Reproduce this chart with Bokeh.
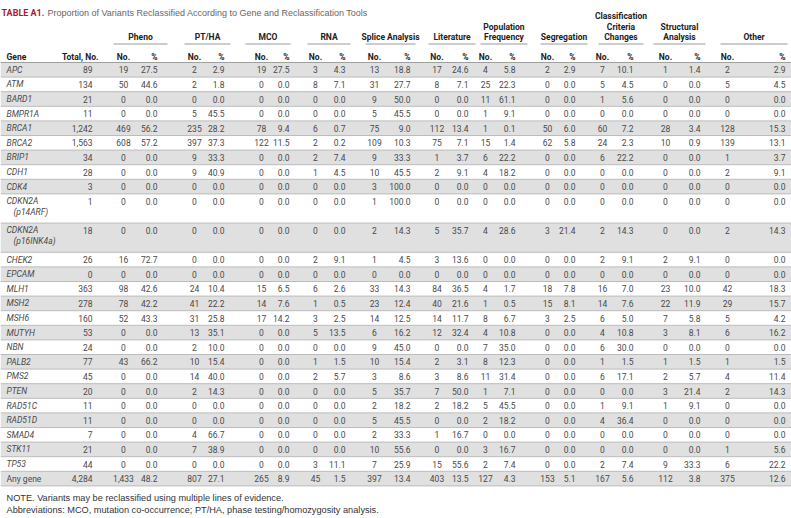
from bokeh.plotting import figure
from bokeh.models import Range1d, ColumnDataSource
from bokeh.core.properties import value
from bokeh.embed import file_html
from bokeh.resources import INLINE

# ---------------- data ----------------
genes = ["APC", "ATM", "BARD1", "BMPR1A", "BRCA1", "BRCA2", "BRIP1", "CDH1", "CDK4",
         "CDKN2A (p14ARF)", "CDKN2A (p16INK4a)", "CHEK2", "EPCAM", "MLH1", "MSH2", "MSH6",
         "MUTYH", "NBN", "PALB2", "PMS2", "PTEN", "RAD51C", "RAD51D", "SMAD4", "STK11", "TP53",
         "Any gene"]
total = [89, 134, 21, 11, 1242, 1563, 34, 28, 3, 1, 18, 26, 0, 363, 278, 160, 53, 24, 77, 45,
         20, 11, 11, 7, 21, 44, 4284]

pheno_no = [19, 50, 0, 0, 469, 608, 0, 0, 0, 0, 0, 16, 0, 98, 78, 52, 0, 0, 43, 0, 0, 0, 0, 0, 0, 0, 1433]
pheno_pct = [27.5, 44.6, 0.0, 0.0, 56.2, 57.2, 0.0, 0.0, 0.0, 0.0, 0.0, 72.7, 0.0, 42.6, 42.2, 43.3, 0.0, 0.0, 66.2, 0.0, 0.0, 0.0, 0.0, 0.0, 0.0, 0.0, 48.2]
ptha_no = [2, 2, 0, 5, 235, 397, 9, 9, 0, 0, 0, 0, 0, 24, 41, 31, 13, 2, 10, 14, 2, 0, 0, 4, 7, 0, 807]
ptha_pct = [2.9, 1.8, 0.0, 45.5, 28.2, 37.3, 33.3, 40.9, 0.0, 0.0, 0.0, 0.0, 0.0, 10.4, 22.2, 25.8, 35.1, 10.0, 15.4, 40.0, 14.3, 0.0, 0.0, 66.7, 38.9, 0.0, 27.1]
mco_no = [19, 0, 0, 0, 78, 122, 0, 0, 0, 0, 0, 0, 0, 15, 14, 17, 0, 0, 0, 0, 0, 0, 0, 0, 0, 0, 265]
mco_pct = [27.5, 0.0, 0.0, 0.0, 9.4, 11.5, 0.0, 0.0, 0.0, 0.0, 0.0, 0.0, 0.0, 6.5, 7.6, 14.2, 0.0, 0.0, 0.0, 0.0, 0.0, 0.0, 0.0, 0.0, 0.0, 0.0, 8.9]
rna_no = [3, 8, 0, 0, 6, 2, 2, 1, 0, 0, 0, 2, 0, 6, 1, 3, 5, 0, 1, 2, 0, 0, 0, 0, 0, 3, 45]
rna_pct = [4.3, 7.1, 0.0, 0.0, 0.7, 0.2, 7.4, 4.5, 0.0, 0.0, 0.0, 9.1, 0.0, 2.6, 0.5, 2.5, 13.5, 0.0, 1.5, 5.7, 0.0, 0.0, 0.0, 0.0, 0.0, 11.1, 1.5]
splice_no = [13, 31, 9, 5, 75, 109, 9, 10, 3, 1, 2, 1, 0, 33, 23, 14, 6, 9, 10, 3, 5, 2, 5, 2, 10, 7, 397]
splice_pct = [18.8, 27.7, 50.0, 45.5, 9.0, 10.3, 33.3, 45.5, 100.0, 100.0, 14.3, 4.5, 0.0, 14.3, 12.4, 12.5, 16.2, 45.0, 15.4, 8.6, 35.7, 18.2, 45.5, 33.3, 55.6, 25.9, 13.4]
lit_no = [17, 8, 0, 0, 112, 75, 1, 2, 0, 0, 5, 3, 0, 84, 40, 14, 12, 0, 2, 3, 7, 2, 0, 1, 0, 15, 403]
lit_pct = [24.6, 7.1, 0.0, 0.0, 13.4, 7.1, 3.7, 9.1, 0.0, 0.0, 35.7, 13.6, 0.0, 36.5, 21.6, 11.7, 32.4, 0.0, 3.1, 8.6, 50.0, 18.2, 0.0, 16.7, 0.0, 55.6, 13.5]
popfreq_no = [4, 25, 11, 1, 1, 15, 6, 4, 0, 0, 4, 0, 0, 4, 1, 8, 4, 7, 8, 11, 1, 5, 2, 0, 3, 2, 127]
popfreq_pct = [5.8, 22.3, 61.1, 9.1, 0.1, 1.4, 22.2, 18.2, 0.0, 0.0, 28.6, 0.0, 0.0, 1.7, 0.5, 6.7, 10.8, 35.0, 12.3, 31.4, 7.1, 45.5, 18.2, 0.0, 16.7, 7.4, 4.3]
seg_no = [2, 0, 0, 0, 50, 62, 0, 0, 0, 0, 3, 0, 0, 18, 15, 3, 0, 0, 0, 0, 0, 0, 0, 0, 0, 0, 153]
seg_pct = [2.9, 0.0, 0.0, 0.0, 6.0, 5.8, 0.0, 0.0, 0.0, 0.0, 21.4, 0.0, 0.0, 7.8, 8.1, 2.5, 0.0, 0.0, 0.0, 0.0, 0.0, 0.0, 0.0, 0.0, 0.0, 0.0, 5.1]
ccc_no = [7, 5, 1, 0, 60, 24, 6, 0, 0, 0, 2, 2, 0, 16, 14, 6, 4, 6, 1, 6, 0, 1, 4, 0, 0, 2, 167]
ccc_pct = [10.1, 4.5, 5.6, 0.0, 7.2, 2.3, 22.2, 0.0, 0.0, 0.0, 14.3, 9.1, 0.0, 7.0, 7.6, 5.0, 10.8, 30.0, 1.5, 17.1, 0.0, 9.1, 36.4, 0.0, 0.0, 7.4, 5.6]
struct_no = [1, 0, 0, 0, 28, 10, 0, 0, 0, 0, 0, 2, 0, 23, 22, 7, 3, 0, 1, 2, 3, 1, 0, 0, 0, 9, 112]
struct_pct = [1.4, 0.0, 0.0, 0.0, 3.4, 0.9, 0.0, 0.0, 0.0, 0.0, 0.0, 9.1, 0.0, 10.0, 11.9, 5.8, 8.1, 0.0, 1.5, 5.7, 21.4, 9.1, 0.0, 0.0, 0.0, 33.3, 3.8]
other_no = [2, 5, 0, 0, 128, 139, 1, 2, 0, 0, 2, 0, 0, 42, 29, 5, 6, 0, 1, 4, 2, 0, 0, 0, 1, 6, 375]
other_pct = [2.9, 4.5, 0.0, 0.0, 15.3, 13.1, 3.7, 9.1, 0.0, 0.0, 14.3, 0.0, 0.0, 18.3, 15.7, 4.2, 16.2, 0.0, 1.5, 11.4, 14.3, 0.0, 0.0, 0.0, 5.6, 22.2, 12.6]

group_labels = ["Pheno", "PT/HA", "MCO", "RNA", "Splice Analysis", "Literature",
                "Population\nFrequency", "Segregation", "Classification\nCriteria\nChanges",
                "Structural\nAnalysis", "Other"]

title_tag = "TABLE A1."
title_text = "Proportion of Variants Reclassified According to Gene and Reclassification Tools"
note_lines = ["NOTE. Variants may be reclassified using multiple lines of evidence.",
              "Abbreviations: MCO, mutation co-occurrence; PT/HA, phase testing/homozygosity analysis."]

tools = [(pheno_no, pheno_pct), (ptha_no, ptha_pct), (mco_no, mco_pct), (rna_no, rna_pct),
         (splice_no, splice_pct), (lit_no, lit_pct), (popfreq_no, popfreq_pct),
         (seg_no, seg_pct), (ccc_no, ccc_pct), (struct_no, struct_pct), (other_no, other_pct)]
for a, b in tools:
    assert len(a) == len(genes) and len(b) == len(genes)
assert len(total) == len(genes)

# ---------------- layout (reference pixel coordinates) ----------------
W, H = 791, 518
X0, X1 = 0, W
no_c = [123, 194, 261, 315, 374, 436.5, 485, 547, 602, 665, 727]
pct_r = [157, 224, 289, 345, 410, 468, 515, 575, 633, 700, 785]
line_l = [113, 184, 245, 307, 365, 428, 480, 540, 598, 653, 720]
line_r = [167, 230, 290, 350, 415, 475, 527, 587, 643, 705, 787]
TOP0 = 62.0
ROW_H = 14.6

HFONT = "Roboto"
DFONT = "Roboto"
RFONT = "Liberation Sans"

p = figure(width=W, height=H, x_range=Range1d(0, W), y_range=Range1d(H, 0),
           output_backend="svg", toolbar_location=None, min_border=0)
p.xaxis.visible = False
p.yaxis.visible = False
p.xgrid.visible = False
p.ygrid.visible = False
p.outline_line_color = None
p.background_fill_color = "white"
p.border_fill_color = "white"


def add_text(xs, ys, texts, align="left", font=DFONT, style="normal", size="9px", color="#4a4a4a"):
    src = ColumnDataSource(dict(x=list(xs), y=list(ys), t=list(texts)))
    p.text(x="x", y="y", text="t", source=src, text_align=align, text_baseline="middle",
           text_font=value(font), text_font_style=style, text_font_size=value(size),
           text_color=color)


# rows geometry
units = [2 if "(" in g else 1 for g in genes]
tops = []
yy = TOP0
for u in units:
    tops.append(yy)
    yy += u * ROW_H
bottom = yy
ymid = [t + ROW_H / 2 for t in tops]

# shading
sh_t, sh_b = [], []
for i, (t, u) in enumerate(zip(tops, units)):
    if i % 2 == 0:
        sh_t.append(t)
        sh_b.append(t + u * ROW_H)
p.quad(left=X0, right=X1, top=sh_t, bottom=sh_b, fill_color="#e0e0e0", line_color=None)

# row separators
seps = tops[1:] + [bottom]
p.segment(x0=X0, x1=X1, y0=seps, y1=seps, line_color="#bcbcbc", line_width=1)
p.segment(x0=[X0], x1=[X1], y0=[TOP0], y1=[TOP0], line_color="#a0a0a0", line_width=1)

# group underlines
p.segment(x0=line_l, x1=line_r, y0=[43.5] * len(line_l), y1=[43.5] * len(line_l),
          line_color="#999999", line_width=1)

# title
add_text([1], [12], [title_tag], font=HFONT, style="bold", size="9px", color="#a51c30")
add_text([47], [12], [title_text], font=RFONT, size="9px", color="#666666")

# group labels
gx, gy, gt = [], [], []
for k, lab in enumerate(group_labels):
    lines = lab.split("\n")
    cx = (line_l[k] + line_r[k]) / 2
    for j, ln in enumerate(lines):
        gx.append(cx)
        gy.append(36.5 - 10.5 * (len(lines) - 1 - j))
        gt.append(ln)
HC = "#222222"
add_text(gx, gy, gt, align="center", font=HFONT, style="bold", size="8.5px", color=HC)

# sub header
add_text([6], [56], ["Gene"], font=HFONT, style="bold", size="8.5px", color=HC)
add_text([98], [56], ["Total, No."], align="right", font=HFONT, style="bold", size="8.5px", color=HC)
add_text(no_c, [56] * len(no_c), ["No."] * len(no_c), align="center", font=HFONT, style="bold",
         size="8.5px", color=HC)
add_text(pct_r, [56] * len(pct_r), ["%"] * len(pct_r), align="right", font=HFONT, style="bold",
         size="8.5px", color=HC)

# gene names
it_x, it_y, it_t = [], [], []
n_x, n_y, n_t = [], [], []
for g, y in zip(genes, ymid):
    if g == "Any gene":
        n_x.append(6); n_y.append(y); n_t.append(g)
    elif "(" in g:
        a, b = g.split(" ", 1)
        it_x += [6, 13]; it_y += [y, y + 11]; it_t += [a, b]
    else:
        it_x.append(6); it_y.append(y); it_t.append(g)
add_text(it_x, it_y, it_t, style="italic", size="8.5px")
add_text(n_x, n_y, n_t, size="8.5px")

# totals
add_text([92] * len(total), ymid, [f"{v:,}" for v in total], align="right", size="8.5px")

# tool columns
nx, ny, nt, px_, py, pt = [], [], [], [], [], []
for k, (nos, pcts) in enumerate(tools):
    for i in range(len(genes)):
        nx.append(no_c[k]); ny.append(ymid[i]); nt.append(f"{nos[i]:,}")
        px_.append(pct_r[k]); py.append(ymid[i]); pt.append(f"{pcts[i]:.1f}")
add_text(nx, ny, nt, align="center", size="8.5px")
add_text(px_, py, pt, align="right", size="8.5px")

# notes
add_text([6], [497], [note_lines[0]], font=RFONT, size="9.2px", color="#333333")
add_text([6], [509.5], [note_lines[1]], font=RFONT, size="9.2px", color="#333333")

open("out.html", "w").write(file_html(p, INLINE))
